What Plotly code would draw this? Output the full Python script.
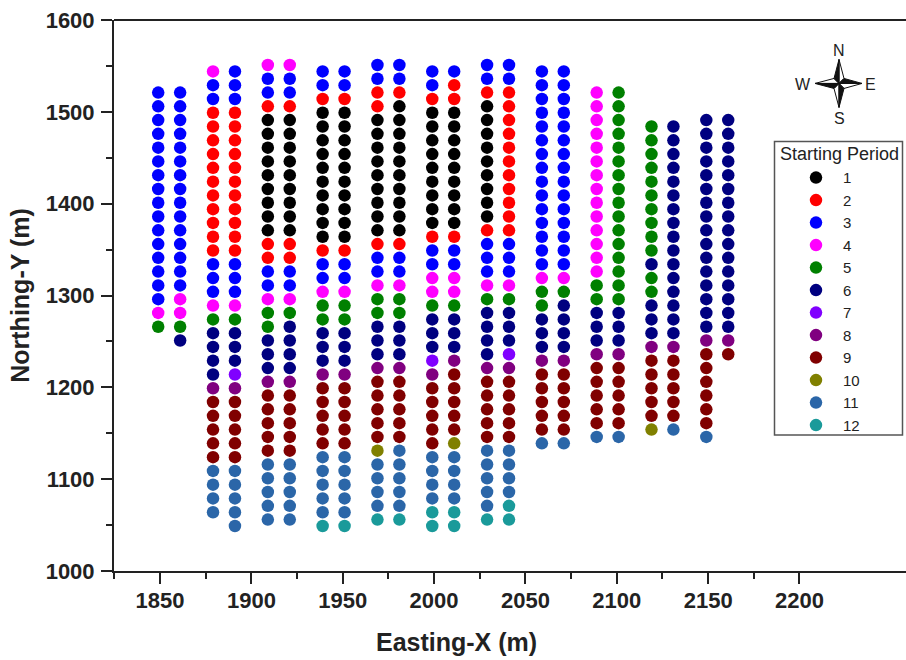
import plotly.graph_objects as go

# Northing rows (two staggered sets of drill rows)
rows_a = [1551, 1536, 1521, 1506, 1491, 1476, 1461, 1446, 1431, 1416, 1401, 1386,
          1371, 1356, 1341, 1326, 1311, 1296, 1281, 1266, 1251, 1236, 1221, 1206,
          1191, 1176, 1161, 1146, 1131, 1116, 1101, 1086, 1071, 1056]
rows_b = [1544, 1529, 1514, 1499, 1484, 1469, 1454, 1439, 1424, 1409, 1394, 1379,
          1364, 1349, 1334, 1319, 1304, 1289, 1274, 1259, 1244, 1229, 1214, 1199,
          1184, 1169, 1154, 1139, 1124, 1109, 1094, 1079, 1064, 1049]

periods = list(range(1, 13))
period_colors = ["#000000", "#ff0000", "#0000ff", "#ff00ff", "#008000", "#000080",
                 "#8000ff", "#800080", "#800000", "#808000", "#2b66a8", "#1a9a9a"]

# Each column: easting, row set, first row northing, runs of (period, count) from top to bottom
columns = [
    (1849, "a", 1521, [(3, 16), (4, 1), (5, 1)]),
    (1861, "a", 1521, [(3, 15), (4, 2), (5, 1), (6, 1)]),
    (1879, "b", 1544, [(4, 1), (3, 2), (2, 11), (3, 3), (4, 1), (5, 1), (6, 4), (8, 1), (9, 5), (11, 4)]),
    (1891, "b", 1544, [(3, 3), (2, 11), (3, 3), (4, 1), (5, 1), (6, 3), (7, 1), (8, 1), (9, 5), (11, 5)]),
    (1909, "a", 1551, [(4, 1), (3, 2), (2, 1), (1, 9), (2, 2), (3, 2), (4, 1), (5, 2), (6, 3), (8, 1), (9, 5), (11, 5)]),
    (1921, "a", 1551, [(4, 1), (3, 2), (2, 1), (1, 9), (2, 2), (3, 2), (4, 1), (5, 1), (6, 4), (8, 1), (9, 5), (11, 5)]),
    (1939, "b", 1544, [(3, 2), (2, 1), (1, 10), (2, 1), (3, 2), (4, 1), (5, 2), (6, 3), (8, 1), (9, 5), (11, 5), (12, 1)]),
    (1951, "b", 1544, [(3, 2), (2, 1), (1, 10), (2, 1), (3, 2), (4, 1), (5, 2), (6, 3), (8, 1), (9, 5), (11, 5), (12, 1)]),
    (1969, "a", 1551, [(3, 2), (2, 2), (1, 9), (2, 1), (3, 2), (4, 1), (5, 2), (6, 3), (8, 1), (9, 5), (10, 1), (11, 4), (12, 1)]),
    (1981, "a", 1551, [(3, 2), (2, 1), (1, 10), (2, 1), (3, 2), (4, 1), (5, 2), (6, 3), (8, 1), (9, 5), (11, 5), (12, 1)]),
    (1999, "b", 1544, [(3, 2), (2, 1), (1, 9), (2, 1), (3, 2), (4, 2), (5, 1), (6, 3), (7, 1), (8, 1), (9, 5), (11, 4), (12, 2)]),
    (2011, "b", 1544, [(3, 1), (2, 2), (1, 9), (2, 1), (3, 2), (4, 2), (5, 1), (6, 3), (8, 1), (9, 5), (10, 1), (11, 4), (12, 2)]),
    (2029, "a", 1551, [(3, 2), (2, 1), (1, 9), (2, 1), (3, 3), (4, 1), (5, 1), (6, 4), (8, 1), (9, 5), (11, 5), (12, 1)]),
    (2041, "a", 1551, [(3, 2), (2, 11), (3, 3), (4, 1), (5, 1), (6, 3), (7, 1), (8, 1), (9, 5), (11, 4), (12, 2)]),
    (2059, "b", 1544, [(3, 15), (4, 1), (5, 2), (6, 3), (8, 1), (9, 5), (11, 1)]),
    (2071, "b", 1544, [(3, 15), (4, 1), (5, 1), (6, 4), (8, 1), (9, 5), (11, 1)]),
    (2089, "a", 1521, [(4, 14), (5, 2), (6, 3), (8, 1), (9, 5), (11, 1)]),
    (2101, "a", 1521, [(5, 16), (6, 3), (8, 1), (9, 5), (11, 1)]),
    (2119, "b", 1484, [(5, 10), (6, 1), (5, 2), (6, 3), (8, 1), (9, 5), (10, 1)]),
    (2131, "b", 1484, [(6, 16), (8, 1), (9, 5), (11, 1)]),
    (2149, "a", 1491, [(6, 16), (8, 1), (9, 6), (11, 1)]),
    (2161, "a", 1491, [(6, 16), (8, 1), (9, 1)]),
]

x_ticks = [1850, 1900, 1950, 2000, 2050, 2100, 2150, 2200]
x_minor = [1825, 1875, 1925, 1975, 2025, 2075, 2125, 2175]
y_ticks = [1000, 1100, 1200, 1300, 1400, 1500, 1600]
y_minor = [1050, 1150, 1250, 1350, 1450, 1550]

pts = {p: ([], []) for p in periods}
for east, row_set, top, runs in columns:
    rows = rows_a if row_set == "a" else rows_b
    i = rows.index(top)
    for p, n in runs:
        for _ in range(n):
            pts[p][0].append(east)
            pts[p][1].append(rows[i])
            i += 1

fig = go.Figure()
for p, col in zip(periods, period_colors):
    fig.add_trace(go.Scatter(x=pts[p][0], y=pts[p][1], mode="markers", name=str(p),
                             marker=dict(color=col, size=12.5, line=dict(width=0))))

W, H = 906, 660
L, R, T, B = 114, 906, 19.5, 571


def px(x):
    return (x - L) / (R - L)


def py(y):
    return (B - y) / (B - T)


INK = "#222222"
FONT = "Liberation Sans"
axis_font = dict(family=FONT, size=22, color=INK, weight="bold")
title_font = dict(family=FONT, size=25, color=INK, weight="bold")
tick_style = dict(ticks="outside", ticklen=11, tickwidth=2, tickcolor=INK)
minor_style = dict(ticks="outside", ticklen=6, tickwidth=2, tickcolor=INK, showgrid=False)

fig.update_layout(
    width=W, height=H, autosize=False,
    margin=dict(l=L, r=W - R, t=T, b=H - B, autoexpand=False),
    plot_bgcolor="white", paper_bgcolor="white",
    font=dict(family=FONT, color=INK),
    legend=dict(
        x=px(789), y=py(161), xanchor="left", yanchor="top",
        bgcolor="rgba(0,0,0,0)", borderwidth=0,
        font=dict(size=15, family=FONT, color=INK),
        itemwidth=44, traceorder="normal", itemclick=False,
    ),
    xaxis=dict(
        range=[1824.8, 2258.3], tickmode="array", tickvals=x_ticks, **tick_style,
        showgrid=False, zeroline=False, showline=True, linewidth=2, linecolor=INK,
        tickfont=axis_font, ticklabelstandoff=-2,
        minor=dict(tickmode="array", tickvals=x_minor, **minor_style),
    ),
    yaxis=dict(
        range=[1000, 1600], tickmode="array", tickvals=y_ticks, **tick_style,
        showgrid=False, zeroline=False, showline=True, linewidth=2, linecolor=INK,
        tickfont=axis_font, ticklabelstandoff=2,
        minor=dict(tickmode="array", tickvals=y_minor, **minor_style),
        title=dict(text="Northing-Y (m)", font=title_font, standoff=9),
    ),
)

# x axis title sits left of the plot centre in the reference
fig.add_annotation(text="Easting-X (m)", xref="paper", yref="paper", x=px(456.5), y=py(642), showarrow=False,
                   xanchor="center", yanchor="middle", font=title_font)

# top border of the frame
fig.add_shape(type="line", xref="paper", yref="paper", x0=0, x1=1, y0=1, y1=1,
              line=dict(color=INK, width=2))

# legend frame and heading
fig.add_shape(type="rect", xref="paper", yref="paper", x0=px(774.5), x1=px(902.5), y0=py(141), y1=py(435),
              line=dict(color="#555555", width=1.5), fillcolor="rgba(0,0,0,0)")
fig.add_annotation(text="Starting Period", xref="paper", yref="paper", x=px(839), y=py(154), showarrow=False,
                   xanchor="center", yanchor="middle", font=dict(size=18, family=FONT, color=INK))

# compass rose, centred in pixel space
cx, cy = px(839), py(83)
star_white = [
    "M 0 0 L 5 5 L 0 24 Z",
    "M 0 0 L -5 -5 L 0 -24 Z",
    "M 0 0 L 5 -5 L 23 0 Z",
    "M 0 0 L -5 5 L -24 0 Z",
]
star_black = [
    "M 0 0 L -5 5 L 0 24 Z",
    "M 0 0 L 5 -5 L 0 -24 Z",
    "M 0 0 L 5 5 L 23 0 Z",
    "M 0 0 L -5 -5 L -24 0 Z",
]
for d in star_white:
    fig.add_shape(type="path", path=d, xref="paper", yref="paper", xsizemode="pixel", ysizemode="pixel",
                  xanchor=cx, yanchor=cy, fillcolor="white", line=dict(color="#111111", width=1))
for d in star_black:
    fig.add_shape(type="path", path=d, xref="paper", yref="paper", xsizemode="pixel", ysizemode="pixel",
                  xanchor=cx, yanchor=cy, fillcolor="#111111", line=dict(color="#111111", width=1))

for txt, ax, ay in [("N", 839, 50), ("S", 839, 118), ("W", 803, 84), ("E", 870, 84)]:
    fig.add_annotation(text=txt, xref="paper", yref="paper", x=px(ax), y=py(ay), showarrow=False,
                       xanchor="center", yanchor="middle",
                       font=dict(size=16, family=FONT, color=INK))

fig.write_html("out.html", config={"displayModeBar": False},
               post_script="document.body.style.margin='0';")
